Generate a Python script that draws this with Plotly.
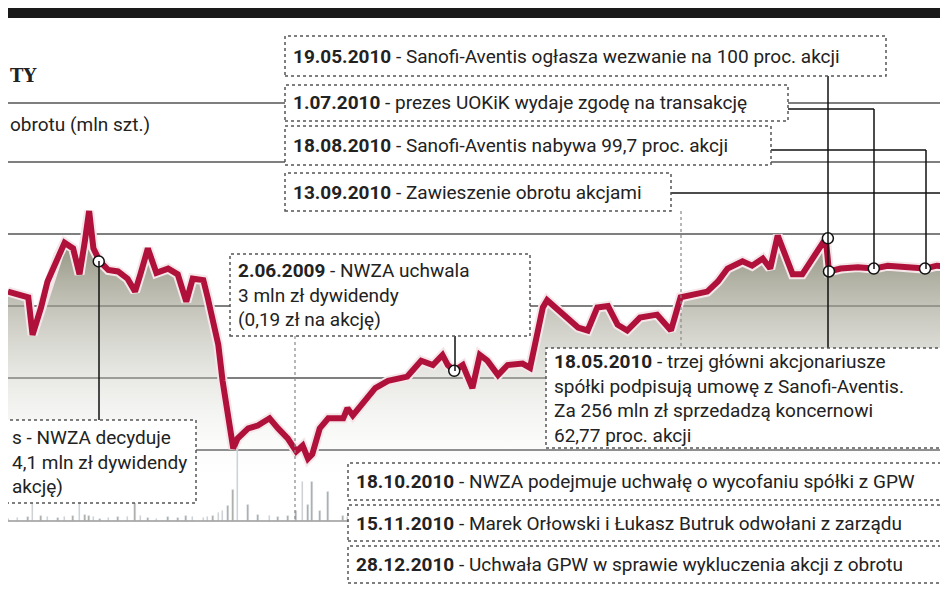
import pandas as pd
import plotly.graph_objects as go

W, H = 948, 593

# price (zl), day offsets from 2008-04-10
days = [0, 9, 19, 23, 31, 37, 47, 53, 61, 67, 72, 76, 80, 86, 94, 103, 112, 119, 124, 131,
        139, 150, 159, 167, 173, 183, 187, 192, 197, 201, 206, 211, 215, 225, 234, 245, 253, 262, 270, 276,
        281, 285, 292, 300, 314, 318, 323, 344, 356, 374, 387, 398, 407, 412, 418, 426, 435, 442, 449, 459,
        468, 482, 489, 493, 501, 505, 513, 524, 534, 543, 552, 562, 571, 580, 592, 608, 621, 630, 646, 655,
        665, 674, 688, 697, 707, 714, 721, 728, 735, 744, 752, 761, 766, 769, 780, 796, 811, 824, 842, 859,
        870, 885]
price = [21.0, 20.8, 20.6, 18.0, 19.9, 21.7, 23.5, 24.4, 24.0, 22.2, 24.5, 26.6, 24.0, 23.1, 22.5, 22.4, 21.9, 21.0, 22.2, 24.0,
         22.3, 22.6, 22.2, 20.3, 21.9, 21.8, 20.6, 18.7, 17.3, 14.8, 12.4, 10.1, 10.8, 11.5, 11.7, 12.2, 11.5, 10.8, 9.9, 10.3,
         9.4, 9.7, 11.5, 12.2, 12.2, 12.9, 12.4, 14.3, 14.8, 15.1, 16.2, 15.9, 16.6, 15.9, 15.5, 15.9, 14.3, 16.6, 16.2, 15.2,
         15.9, 16.0, 15.7, 17.1, 19.9, 20.4, 19.9, 19.2, 18.5, 18.3, 19.9, 20.0, 18.7, 18.3, 19.2, 19.4, 18.3, 20.6, 20.8, 21.0,
         21.7, 22.6, 23.1, 22.8, 23.3, 22.6, 24.9, 23.5, 22.2, 22.2, 23.1, 24.0, 24.7, 22.4, 22.6, 22.7, 22.6, 22.8, 22.7, 22.6,
         22.8, 22.7]
volume = [0.05, 0.06, 0.08, 0.40, 0.10, 0.07, 0.06, 0.08, 0.10, 0.45, 0.12, 0.09, 0.07, 0.05, 0.06, 0.08, 0.07, 0.40, 0.09, 0.06,
          0.05, 0.07, 0.06, 0.10, 0.08, 0.06, 0.07, 0.10, 0.15, 0.20, 0.28, 0.60, 1.40, 0.30, 0.12, 0.10, 0.08, 0.09, 0.20, 0.75,
          0.30, 0.75, 0.20, 0.55, 0.10, 0.08, 0.09, 0.07, 0.06, 0.05, 0.07, 0.06, 0.08, 0.06, 0.05, 0.07, 0.09, 0.06, 0.05, 0.06,
          0.05, 0.06, 0.07, 0.10, 0.12, 0.08, 0.06, 0.05, 0.06, 0.05, 0.07, 0.06, 0.05, 0.06, 0.05, 0.06, 0.05, 0.07, 0.06, 0.05,
          0.06, 0.07, 0.05, 0.06, 0.05, 0.06, 0.08, 0.06, 0.05, 0.06, 0.05, 0.07, 0.10, 0.30, 0.05, 0.04, 0.04, 0.05, 0.04, 0.04,
          0.04, 0.04]

event_days = [85, 418, 768, 769, 811, 859, 885]
event_price = [23.1, 15.5, 24.7, 22.4, 22.6, 22.6, 22.7]

grid_levels = [10, 15, 20, 25, 30, 34.1]

start = pd.Timestamp("2008-04-10")
dates = start + pd.to_timedelta(days, unit="D")
ev_dates = start + pd.to_timedelta(event_days, unit="D")

RED = "#b0113b"
FONT = "Roboto, sans-serif"


def px(x):
    return x / W


def py(y):
    return 1 - y / H


fig = go.Figure()

# volume bars
fig.add_trace(go.Bar(x=dates, y=volume, yaxis="y2", marker_color="#a9a9a0",
                     width=86400000 * 1.5, showlegend=False))

# shaded area under price
fig.add_trace(go.Scatter(x=dates, y=price, mode="lines", line=dict(width=0),
                         fill="tozeroy",
                         fillgradient=dict(type="vertical", start=7, stop=24,
                                           colorscale=[[0, "rgba(255,255,255,0)"],
                                                       [1, "rgba(135,135,115,0.85)"]]),
                         showlegend=False))
fig.add_trace(go.Scatter(x=dates, y=price, mode="lines",
                         line=dict(color="#f4e6e9", width=10), showlegend=False))
fig.add_trace(go.Scatter(x=dates, y=price, mode="lines",
                         line=dict(color=RED, width=6), showlegend=False))

shapes = []
# horizontal grid lines
for g in grid_levels:
    shapes.append(dict(type="line", xref="paper", yref="y", x0=0, x1=1, y0=g, y1=g,
                       line=dict(color="#555", width=1.5), layer="below"))
# volume baseline
shapes.append(dict(type="line", xref="paper", yref="paper", x0=0, x1=px(345),
                   y0=py(513), y1=py(513), line=dict(color="#999", width=1.5)))
# black top bar
shapes.append(dict(type="rect", xref="paper", yref="paper", x0=0, x1=1, y0=py(10), y1=1,
                   fillcolor="#1a1a1a", line=dict(width=0)))

# connector lines (solid)
conn = [((91, 253), (91, 412)), ((447, 328), (447, 363)), ((820, 68), (820, 340)),
        ((780, 101), (866, 101)), ((866, 101), (866, 261)),
        ((763, 142), (918, 142)), ((918, 142), (918, 261)),
        ((663, 185), (945, 185)), ((945, 185), (945, 259))]
for (x0, y0), (x1, y1) in conn:
    shapes.append(dict(type="line", xref="paper", yref="paper", x0=px(x0), x1=px(x1),
                       y0=py(y0), y1=py(y1), line=dict(color="#111", width=1.5)))
# dotted guides
for (x0, y0), (x1, y1) in [((287, 328), (287, 513)), ((673, 203), (673, 340))]:
    shapes.append(dict(type="line", xref="paper", yref="paper", x0=px(x0), x1=px(x1),
                       y0=py(y0), y1=py(y1), line=dict(color="#888", width=1.2, dash="dot")))

# boxes: (x0, y0, x1, y1, lines)
boxes = [
    (277, 28, 878, 68, ["<b>19.05.2010</b> - Sanofi-Aventis ogłasza wezwanie na 100 proc. akcji"]),
    (277, 77, 780, 113, ["<b>1.07.2010</b> - prezes UOKiK wydaje zgodę na transakcję"]),
    (277, 118, 763, 157, ["<b>18.08.2010</b> - Sanofi-Aventis nabywa 99,7 proc. akcji"]),
    (277, 165, 663, 203, ["<b>13.09.2010</b> - Zawieszenie obrotu akcjami"]),
    (222, 246, 522, 328, ["<b>2.06.2009</b> - NWZA uchwala", "3 mln zł dywidendy",
                          "(0,19 zł na akcję)"]),
    (538, 340, 960, 440, ["<b>18.05.2010</b> - trzej główni akcjonariusze",
                          "spółki podpisują umowę z Sanofi-Aventis.",
                          "Za 256 mln zł sprzedadzą koncernowi", "62,77 proc. akcji"]),
    (-20, 412, 188, 495, ["s - NWZA decyduje", "4,1 mln zł dywidendy", "akcję)"]),
    (340, 455, 945, 492, ["<b>18.10.2010</b> - NWZA podejmuje uchwałę o wycofaniu spółki z GPW"]),
    (340, 497, 945, 533, ["<b>15.11.2010</b> - Marek Orłowski i Łukasz Butruk odwołani z zarządu"]),
    (340, 538, 945, 575, ["<b>28.12.2010</b> - Uchwała GPW w sprawie wykluczenia akcji z obrotu"]),
]
annotations = []
for x0, y0, x1, y1, lines in boxes:
    shapes.append(dict(type="rect", xref="paper", yref="paper", x0=px(x0), x1=px(x1),
                       y0=py(y1), y1=py(y0), fillcolor="white",
                       line=dict(color="#555", width=1.5, dash="dot")))
    annotations.append(dict(xref="paper", yref="paper", x=px(max(x0, -4) + 6),
                            y=py((y0 + y1) / 2), xanchor="left", yanchor="middle",
                            text="<br>".join(lines), align="left", showarrow=False,
                            font=dict(family=FONT, size=19, color="#222")))

annotations.append(dict(xref="paper", yref="paper", x=0, y=py(68), xanchor="left",
                        yanchor="middle", text="<b>TY</b>", showarrow=False,
                        font=dict(family="DejaVu Serif", size=18, color="#222")))
annotations.append(dict(xref="paper", yref="paper", x=0, y=py(116), xanchor="left",
                        yanchor="middle", text="obrotu (mln szt.)", showarrow=False,
                        font=dict(family=FONT, size=19, color="#222")))

# event markers (on top)
fig.add_trace(go.Scatter(x=ev_dates, y=event_price, mode="markers",
                         marker=dict(color="white", size=11, line=dict(color="#111", width=1.5)),
                         showlegend=False))

fig.update_layout(
    width=W, height=H,
    margin=dict(l=0, r=0, t=0, b=0),
    plot_bgcolor="rgba(0,0,0,0)", paper_bgcolor="white",
    xaxis=dict(range=[start, start + pd.Timedelta(days=888)], visible=False),
    yaxis=dict(range=[-0.49, 40.7], visible=False, domain=[0, 1]),
    yaxis2=dict(range=[0, 3], domain=[py(513), py(513) + 0.265], visible=False,
                anchor="x"),
    shapes=shapes,
    annotations=annotations,
    bargap=0,
)

fig.write_html("out.html")
